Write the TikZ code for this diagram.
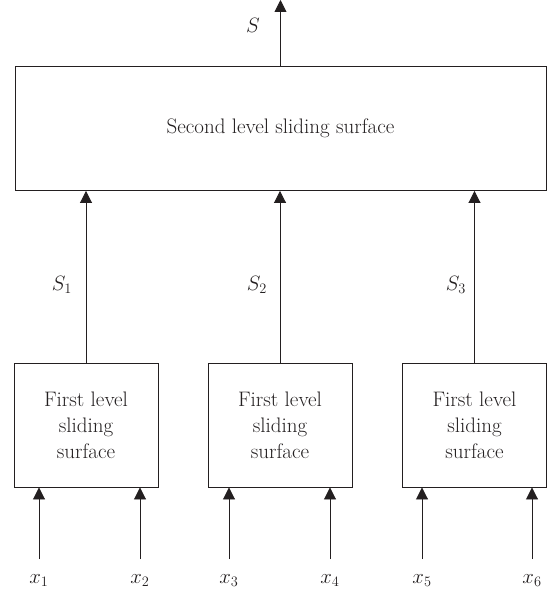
\documentclass[tikz,border=0pt]{standalone}
\usetikzlibrary{arrows.meta}
\definecolor{ink}{HTML}{231F20}
\begin{document}
\begin{tikzpicture}[x=1pt,y=-1pt,
  box/.style={draw=ink, line width=0.9pt, inner sep=0pt, align=center,
    font=\fontsize{21}{26}\selectfont, text=ink},
  arr/.style={draw=ink, line width=0.9pt, -{Triangle[width=12pt,length=12pt]}},
  lbl/.style={inner sep=0pt, anchor=base, font=\fontsize{21}{24}\selectfont, text=ink}]
  \useasboundingbox (0,0) rectangle (551,594);

  % second level block
  \node[box, minimum width=531pt, minimum height=124pt] (top) at (280.5,128.5)
    {Second level sliding surface};

  % first level blocks
  \foreach \n/\cx in {1/86,2/280,3/474.5}
    \node[box, minimum width=144pt, minimum height=124pt] (b\n) at (\cx,425)
      {First level\\sliding\\surface};

  % output S
  \coordinate (out) at (280.5,0);
  \draw[arr] (top.north) -- (out);
  \node[lbl] (lS) at (253,33) {$S$};

  % intermediate outputs S1..S3
  \foreach \n/\lx in {1/62,2/257,3/456}{
    \draw[arr] (b\n.north) -- (b\n.north |- top.south);
    \node[lbl] (lS\n) at (\lx,290) {$S_\n$};
  }

  % inputs x1..x6
  \foreach \i/\b/\ix in {1/1/39,2/1/140,3/2/229,4/2/330,5/3/422,6/3/532}{
    \coordinate (in\i) at (\ix,559);
    \draw[arr] (in\i) -- (in\i |- b\b.south);
    \node[lbl] (lx\i) at (\ix,583) {$x_\i$};
  }
\end{tikzpicture}
\end{document}
